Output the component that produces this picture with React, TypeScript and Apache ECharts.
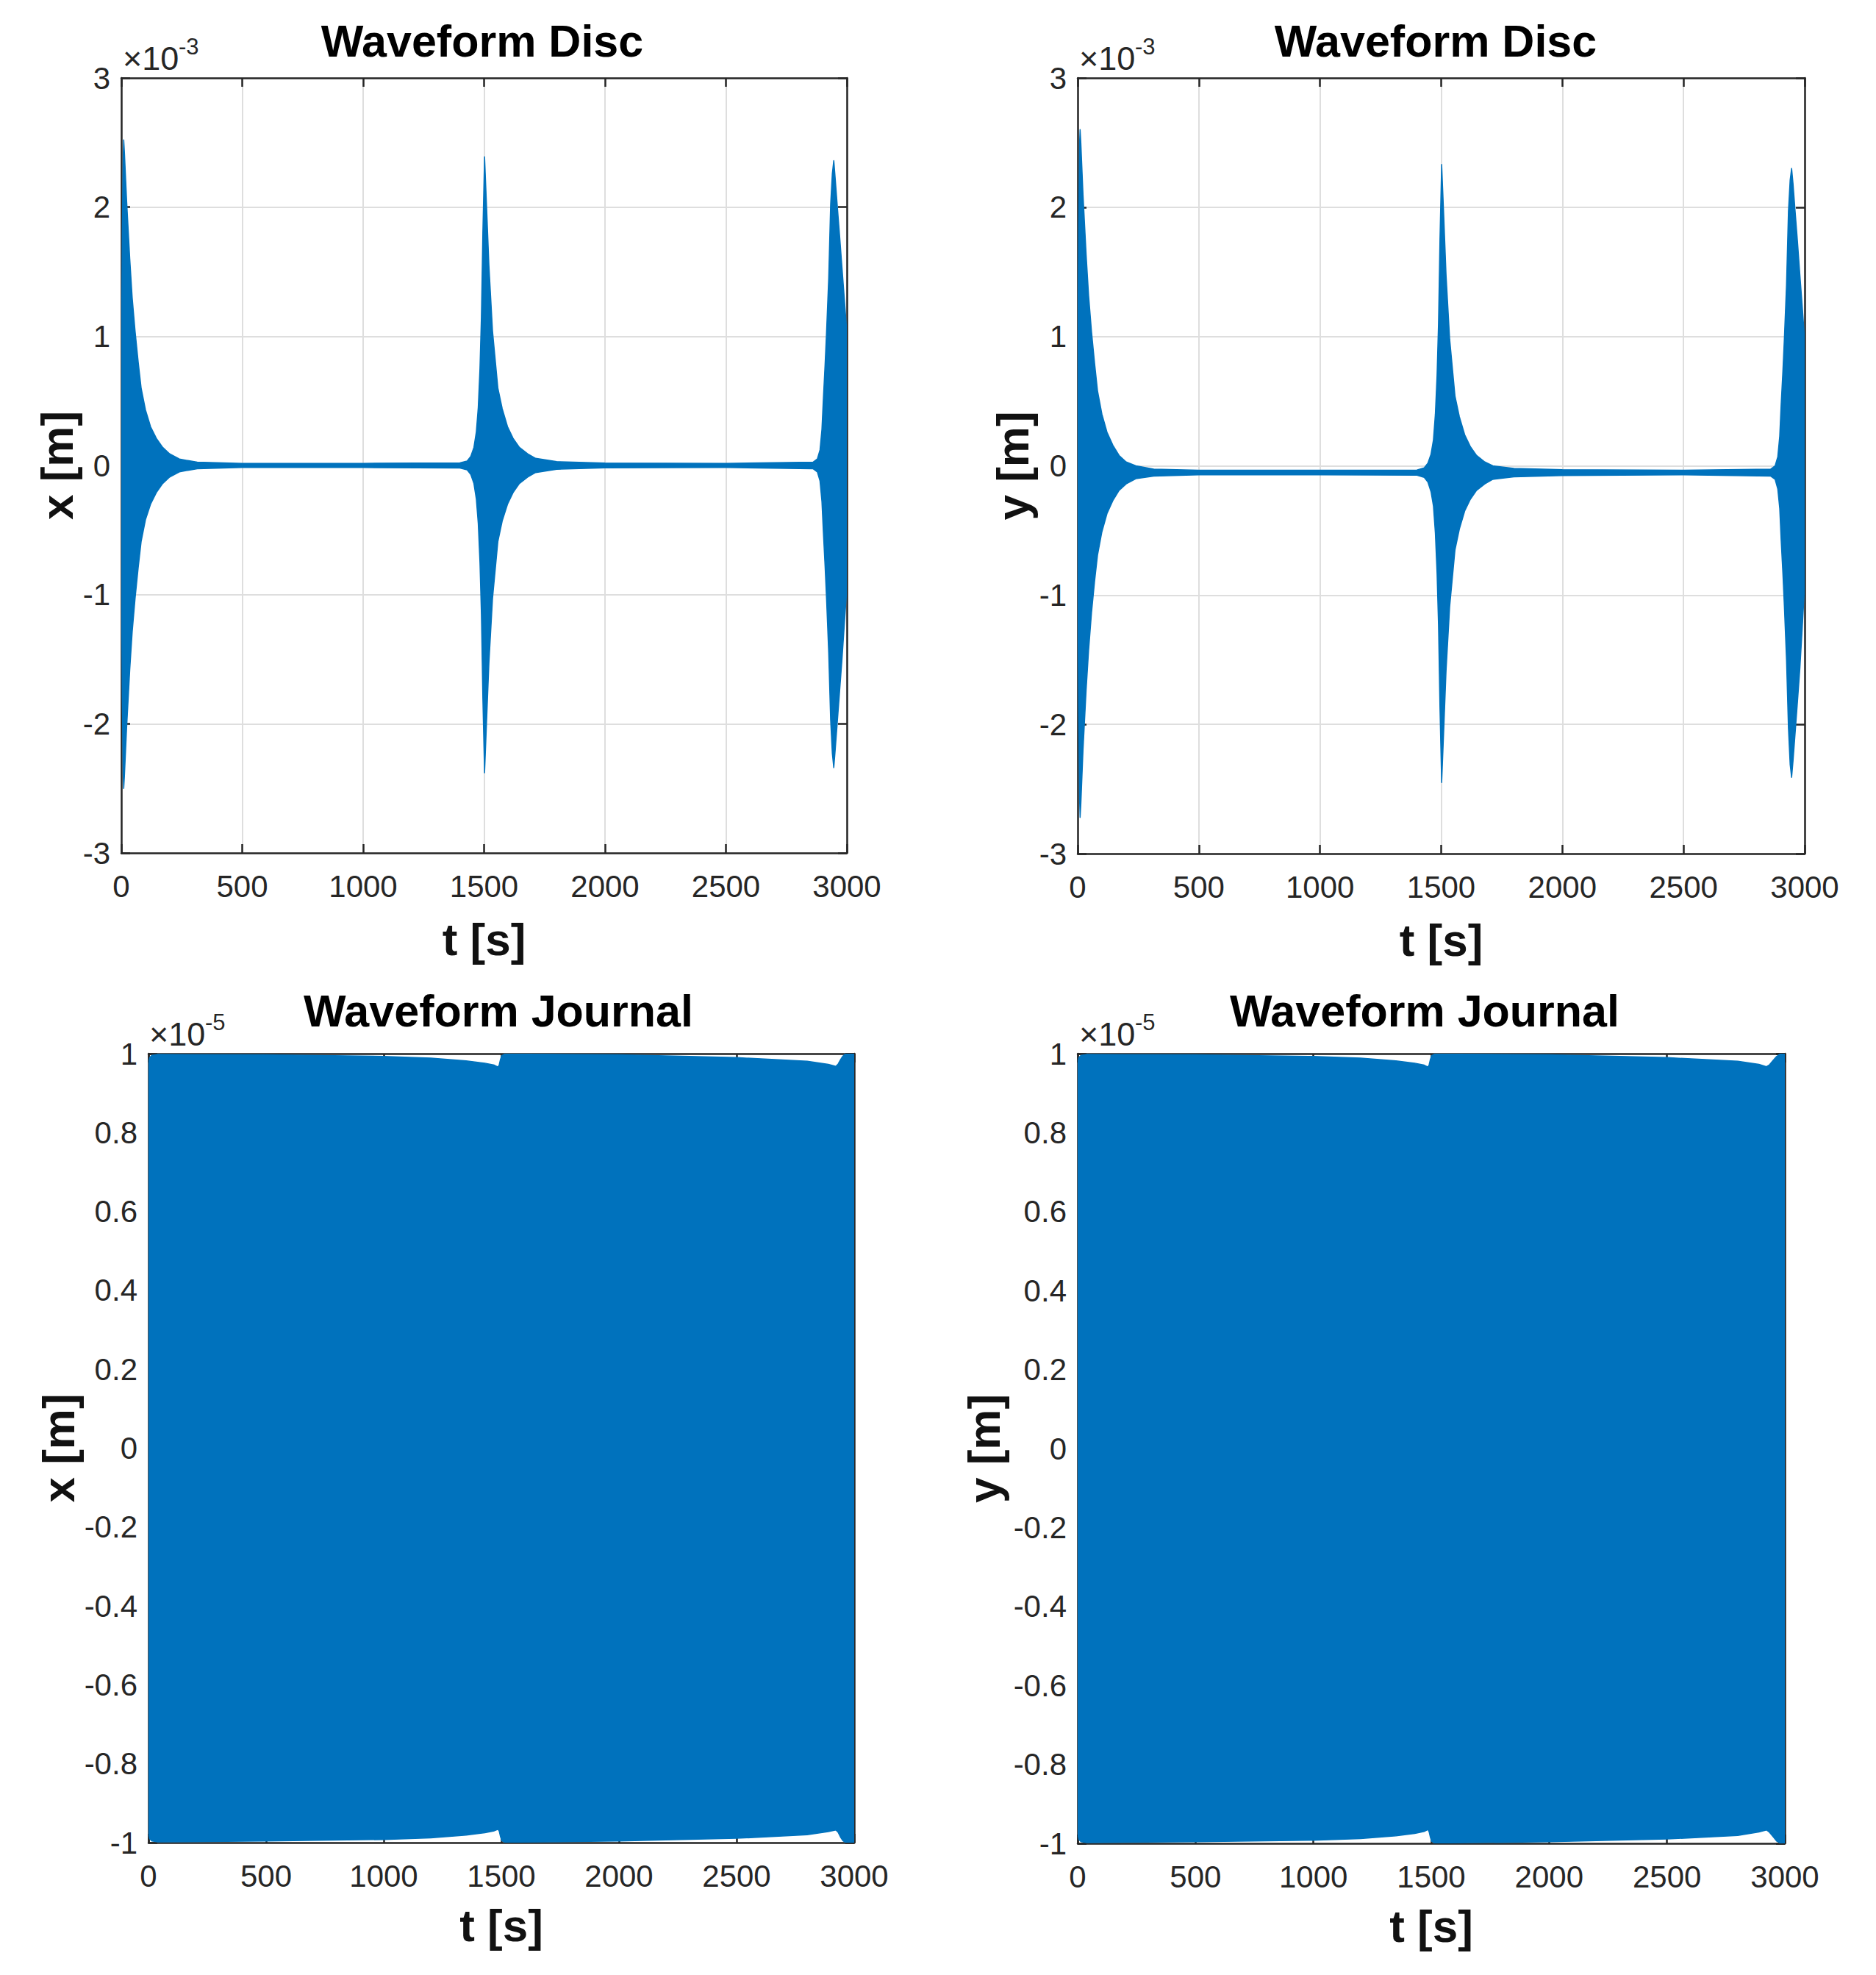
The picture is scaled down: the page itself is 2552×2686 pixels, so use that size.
import React, { useEffect, useRef } from "react";
import * as echarts from "echarts";

const FONT = '"Liberation Sans", Arial, Helvetica, sans-serif';
const BLUE = "#0072BD";
const AXIS_COLOR = "#262626";
const GRID_COLOR = "#dedede";

// ---------- data (envelopes of the oscillating waveforms) ----------
const xTicks = [0, 500, 1000, 1500, 2000, 2500, 3000];

// Disc waveforms, units of 1e-3 m
const discTime = [
  0, 4, 8, 10, 13, 22, 35, 45, 57, 70, 82, 100, 121, 145, 171, 200, 240, 314,
  500, 1000, 1400,
  1430, 1445, 1458, 1468, 1476, 1483, 1489, 1495, 1502,
  1510, 1520, 1535, 1557, 1575, 1597, 1620, 1646, 1680, 1713,
  1800, 2000, 2500,
  2860, 2878, 2889, 2897, 2903, 2910, 2916, 2925, 2933, 2940, 2946,
  2952, 2960, 2970, 2980, 2990, 3000,
];
const discXUpper = [
  0.6, 1.8, 2.4, 2.52, 2.42, 2.05, 1.6, 1.3, 1.04, 0.8, 0.6, 0.43, 0.3, 0.21, 0.14, 0.09, 0.05, 0.025,
  0.016, 0.016, 0.02,
  0.035, 0.07, 0.14, 0.26, 0.45, 0.75, 1.15, 1.8, 2.39,
  2.02, 1.55, 1.04, 0.6, 0.44, 0.3, 0.21, 0.14, 0.09, 0.055,
  0.03, 0.018, 0.016,
  0.025, 0.05, 0.12, 0.28, 0.52, 0.78, 1.03, 1.45, 2.02, 2.26, 2.36,
  2.22, 2.02, 1.78, 1.53, 1.28, 1.03,
];
const discXLower = [
  -0.6, -1.8, -2.4, -2.5, -2.4, -2.03, -1.58, -1.29, -1.03, -0.79, -0.59, -0.42, -0.3, -0.21, -0.14, -0.09, -0.05, -0.025,
  -0.016, -0.016, -0.02,
  -0.035, -0.07, -0.14, -0.26, -0.45, -0.75, -1.15, -1.8, -2.38,
  -2.0, -1.53, -1.03, -0.59, -0.43, -0.3, -0.21, -0.14, -0.09, -0.055,
  -0.03, -0.018, -0.016,
  -0.025, -0.05, -0.12, -0.28, -0.52, -0.78, -1.03, -1.45, -1.97, -2.23, -2.34,
  -2.2, -2.0, -1.75, -1.5, -1.22, -0.95,
];
const discYUpper = [
  0.6, 1.85, 2.5, 2.6, 2.5, 2.1, 1.63, 1.32, 1.04, 0.79, 0.58, 0.4, 0.26, 0.16, 0.08, 0.03, 0.0, -0.025,
  -0.034, -0.034, -0.032,
  -0.015, 0.02, 0.09, 0.2, 0.4, 0.7, 1.1, 1.75, 2.33,
  1.96, 1.48, 0.98, 0.54, 0.38, 0.24, 0.15, 0.08, 0.03, 0.0,
  -0.02, -0.03, -0.034,
  -0.025, 0.0, 0.07, 0.23, 0.48, 0.73, 0.98, 1.4, 1.97, 2.21, 2.3,
  2.18, 1.98, 1.74, 1.48, 1.23, 0.97,
];
const discYLower = [
  -0.65, -1.9, -2.58, -2.72, -2.62, -2.2, -1.73, -1.43, -1.14, -0.89, -0.69, -0.51, -0.37, -0.27, -0.19, -0.14, -0.1, -0.08,
  -0.07, -0.07, -0.073,
  -0.09, -0.125, -0.2, -0.31, -0.52, -0.83, -1.23, -1.87, -2.45,
  -2.07, -1.59, -1.09, -0.65, -0.49, -0.35, -0.26, -0.19, -0.14, -0.105,
  -0.085, -0.075, -0.07,
  -0.08, -0.105, -0.18, -0.33, -0.58, -0.83, -1.08, -1.5, -2.03, -2.31, -2.41,
  -2.28, -2.08, -1.83, -1.57, -1.25, -0.92,
];

// Journal waveforms, units of 1e-5 m
const journalXTime = [
  0, 5, 15, 40, 500, 1000, 1200, 1350, 1430, 1470, 1486, 1491, 1496, 1502, 1515,
  2000, 2500, 2800, 2890, 2922, 2932, 2942, 2952, 2962, 3000,
];
const journalXUpper = [
  0.975, 0.99, 0.996, 0.998, 0.997, 0.993, 0.989, 0.982, 0.976, 0.971, 0.966, 0.972, 0.985, 0.995, 0.999,
  0.997, 0.99, 0.981, 0.973, 0.968, 0.974, 0.985, 0.994, 0.999, 0.999,
];
const journalXLower = [
  -0.975, -0.99, -0.996, -0.998, -0.996, -0.992, -0.988, -0.981, -0.975, -0.97, -0.966, -0.971, -0.984, -0.995, -0.999,
  -0.996, -0.989, -0.98, -0.972, -0.968, -0.974, -0.986, -0.995, -0.999, -0.999,
];
const journalYTime = [
  0, 5, 15, 40, 500, 1000, 1200, 1350, 1430, 1470, 1486, 1491, 1496, 1502, 1515,
  2000, 2500, 2800, 2890, 2922, 2935, 2950, 2965, 2980, 3000,
];
const journalYUpper = [
  0.975, 0.99, 0.996, 0.998, 0.997, 0.993, 0.989, 0.982, 0.976, 0.971, 0.966, 0.972, 0.985, 0.995, 0.999,
  0.997, 0.99, 0.981, 0.973, 0.967, 0.972, 0.983, 0.993, 0.999, 0.999,
];
const journalYLower = [
  -0.975, -0.99, -0.996, -0.998, -0.996, -0.992, -0.988, -0.981, -0.975, -0.97, -0.965, -0.971, -0.984, -0.995, -0.999,
  -0.996, -0.989, -0.98, -0.971, -0.966, -0.972, -0.983, -0.994, -0.999, -0.999,
];

const discYTicks = [-3, -2, -1, 0, 1, 2, 3];
const journalYTicks = [-1, -0.8, -0.6, -0.4, -0.2, 0, 0.2, 0.4, 0.6, 0.8, 1];

// ---------- layout ----------
const panels = [
  {
    title: "Waveform Disc", xName: "t [s]", yName: "x [m]", exp: "-3",
    t: discTime, up: discXUpper, lo: discXLower, yTicks: discYTicks,
    grid: { left: 165, top: 106, width: 987, height: 1054 },
    titlePos: [656, 56], expPos: [167, 79], yNameGap: 56, xNameGap: 86,
  },
  {
    title: "Waveform Disc", xName: "t [s]", yName: "y [m]", exp: "-3",
    t: discTime, up: discYUpper, lo: discYLower, yTicks: discYTicks,
    grid: { left: 1466, top: 106, width: 989, height: 1055 },
    titlePos: [1953, 56], expPos: [1468, 79], yNameGap: 58, xNameGap: 86,
  },
  {
    title: "Waveform Journal", xName: "t [s]", yName: "x [m]", exp: "-5",
    t: journalXTime, up: journalXUpper, lo: journalXLower, yTicks: journalYTicks,
    grid: { left: 202, top: 1433, width: 960, height: 1073 },
    titlePos: [678, 1375], expPos: [203, 1406], yNameGap: 92, xNameGap: 81,
  },
  {
    title: "Waveform Journal", xName: "t [s]", yName: "y [m]", exp: "-5",
    t: journalYTime, up: journalYUpper, lo: journalYLower, yTicks: journalYTicks,
    grid: { left: 1466, top: 1433, width: 962, height: 1074 },
    titlePos: [1938, 1375], expPos: [1468, 1406], yNameGap: 97, xNameGap: 81,
  },
];

const fmtY = (v: number) => String(Math.round(v * 10) / 10);
const fmtX = (v: number) => String(Math.round(v));

export default function App() {
  const ref = useRef<HTMLDivElement>(null);

  useEffect(() => {
    if (!ref.current) return;
    const chart = echarts.init(ref.current, undefined, { renderer: "svg" });

    const axisLine = { show: true, onZero: false, lineStyle: { color: AXIS_COLOR, width: 2.5 } };
    const axisTick = { show: true, inside: true, length: 12, lineStyle: { color: AXIS_COLOR, width: 2.5 } };

    const grids: any[] = [];
    const xAxes: any[] = [];
    const yAxes: any[] = [];
    const series: any[] = [];
    const graphics: any[] = [];

    panels.forEach((p, i) => {
      grids.push({ ...p.grid, containLabel: false });
      const xMin = xTicks[0];
      const xMax = xTicks[xTicks.length - 1];
      const xInt = xTicks[1] - xTicks[0];
      const yMin = p.yTicks[0];
      const yMax = p.yTicks[p.yTicks.length - 1];
      const yInt = p.yTicks[1] - p.yTicks[0];

      xAxes.push({
        type: "value", gridIndex: i, position: "bottom", min: xMin, max: xMax, interval: xInt,
        axisLine, axisTick,
        axisLabel: { fontSize: 42, color: AXIS_COLOR, fontFamily: FONT, margin: 24, formatter: fmtX },
        splitLine: { show: true, lineStyle: { color: GRID_COLOR, width: 2 } },
        name: p.xName, nameLocation: "middle", nameGap: p.xNameGap,
        nameTextStyle: { fontSize: 62, fontWeight: "bold", color: "#111", fontFamily: FONT },
      });
      xAxes.push({
        type: "value", gridIndex: i, position: "top", min: xMin, max: xMax, interval: xInt,
        axisLine, axisTick, axisLabel: { show: false }, splitLine: { show: false },
      });
      yAxes.push({
        type: "value", gridIndex: i, position: "left", min: yMin, max: yMax, interval: yInt,
        axisLine, axisTick,
        axisLabel: { fontSize: 42, color: AXIS_COLOR, fontFamily: FONT, margin: 15, formatter: fmtY },
        splitLine: { show: true, lineStyle: { color: GRID_COLOR, width: 2 } },
        name: p.yName, nameLocation: "middle", nameGap: p.yNameGap,
        nameTextStyle: { fontSize: 62, fontWeight: "bold", color: "#111", fontFamily: FONT },
      });
      yAxes.push({
        type: "value", gridIndex: i, position: "right", min: yMin, max: yMax, interval: yInt,
        axisLine, axisTick, axisLabel: { show: false }, splitLine: { show: false },
      });

      series.push({
        type: "custom",
        coordinateSystem: "cartesian2d",
        xAxisIndex: i * 2,
        yAxisIndex: i * 2,
        clip: true,
        silent: true,
        data: p.t.map((t, k) => [t, p.up[k], p.lo[k]]),
        encode: { x: 0, y: [1, 2] },
        renderItem: (params: any, api: any) => {
          if (params.dataIndex !== 0) return null;
          const pts: number[][] = [];
          for (let k = 0; k < p.t.length; k++) pts.push(api.coord([p.t[k], p.up[k]]));
          for (let k = p.t.length - 1; k >= 0; k--) pts.push(api.coord([p.t[k], p.lo[k]]));
          return {
            type: "polygon",
            shape: { points: pts, smooth: 0 },
            style: { fill: BLUE, stroke: BLUE, lineWidth: 1.5, lineJoin: "round" },
          };
        },
      });

      graphics.push({
        type: "text", x: p.titlePos[0], y: p.titlePos[1],
        style: {
          text: p.title, font: `bold 61px ${FONT}`, fill: "#000",
          textAlign: "center", textVerticalAlign: "middle", align: "center", verticalAlign: "middle",
        },
      });
      graphics.push({
        type: "text", x: p.expPos[0], y: p.expPos[1],
        style: {
          text: "×10", font: `45px ${FONT}`, fill: AXIS_COLOR,
          textAlign: "left", textVerticalAlign: "middle", align: "left", verticalAlign: "middle",
        },
      });
      graphics.push({
        type: "text", x: p.expPos[0] + 76, y: p.expPos[1] - 16,
        style: {
          text: p.exp, font: `31px ${FONT}`, fill: AXIS_COLOR,
          textAlign: "left", textVerticalAlign: "middle", align: "left", verticalAlign: "middle",
        },
      });
    });

    chart.setOption({
      animation: false,
      backgroundColor: "#ffffff",
      grid: grids,
      xAxis: xAxes,
      yAxis: yAxes,
      series,
      graphic: graphics,
    });

    return () => chart.dispose();
  }, []);

  return (
    <div
      ref={ref}
      style={{ position: "absolute", left: 0, top: 0, width: 2552, height: 2686, background: "#fff" }}
    />
  );
}
